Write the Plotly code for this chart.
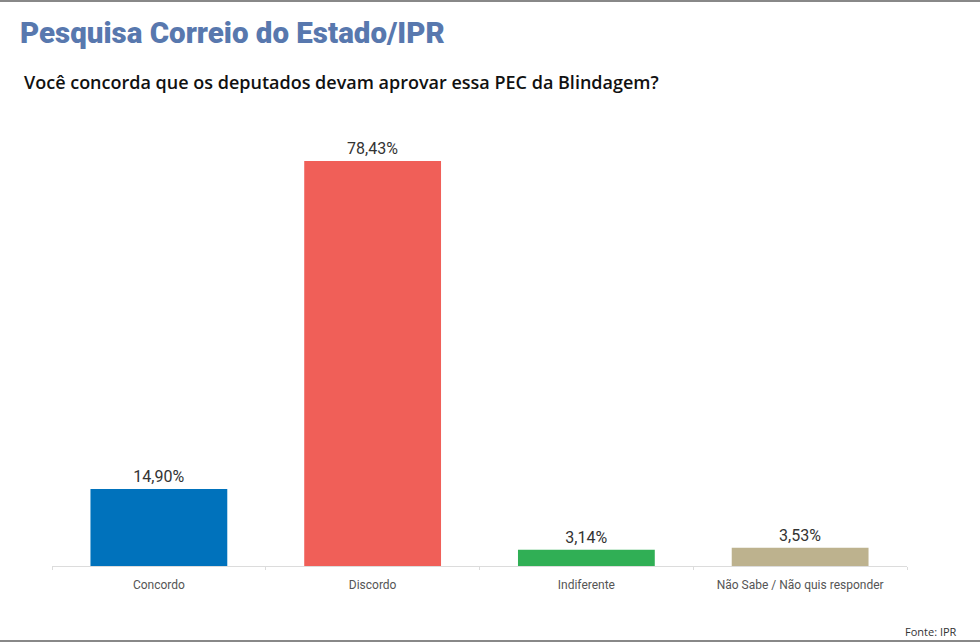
import plotly.graph_objects as go

# dados da pesquisa
categorias = ["Concordo", "Discordo", "Indiferente", "Não Sabe / Não quis responder"]
percentuais = [14.90, 78.43, 3.14, 3.53]
rotulos = ["14,90%", "78,43%", "3,14%", "3,53%"]
cores = ["#0072BC", "#F05F58", "#30AF55", "#BDB28E"]

W, H = 980, 644
L, R, T, B = 52, 73, 110, 78
PW, PH = W - L - R, H - T - B


def px(x):
    return (x - L) / PW


def py(y):
    return (H - B - y) / PH


fig = go.Figure(go.Bar(
    x=categorias,
    y=percentuais,
    text=rotulos,
    textposition="outside",
    textfont=dict(family="Roboto", size=16, color="#333333"),
    marker=dict(color=cores, line=dict(width=0)),
    width=0.64,
    cliponaxis=False,
    hoverinfo="skip",
))

fig.update_layout(
    width=W, height=H,
    margin=dict(l=L, r=R, t=T, b=B),
    paper_bgcolor="white",
    plot_bgcolor="white",
    showlegend=False,
    title=dict(
        text="Pesquisa Correio do Estado/IPR",
        xref="container", yref="container",
        x=20 / W, xanchor="left",
        y=1 - 33 / H, yanchor="middle",
        font=dict(family="Roboto", size=29.5, color="#5878AE", weight=900),
    ),
    xaxis=dict(
        showline=True, linecolor="#dcdcdc", linewidth=1,
        ticks="outside", ticklen=3, tickcolor="#dcdcdc",
        tickson="boundaries", ticklabelstandoff=8,
        tickfont=dict(family="Roboto, Noto Sans", size=12, color="#555555"),
        showgrid=False,
    ),
    yaxis=dict(visible=False, range=[0, 88.3], showgrid=False),
    annotations=[
        dict(
            text="Você concorda que os deputados devam aprovar essa PEC da Blindagem?",
            xref="paper", yref="paper", x=px(22), y=py(82),
            xanchor="left", yanchor="middle", showarrow=False,
            font=dict(family="Open Sans", size=18, color="#111111", weight=600),
        ),
        dict(
            text="Fonte: IPR",
            xref="paper", yref="paper", x=px(959), y=py(631),
            xanchor="right", yanchor="middle", showarrow=False,
            font=dict(family="Open Sans", size=11, color="#333333"),
        ),
    ],
    shapes=[
        dict(type="line", xref="paper", yref="paper",
             x0=px(0), x1=px(W), y0=py(1), y1=py(1),
             line=dict(color="#888888", width=2)),
        dict(type="line", xref="paper", yref="paper",
             x0=px(0), x1=px(W), y0=py(641), y1=py(641),
             line=dict(color="#888888", width=2)),
    ],
)

# sem margem da página para o gráfico ocupar a janela toda
fig.write_html("out.html", config={"displayModeBar": False},
               post_script="document.body.style.margin='0';")
